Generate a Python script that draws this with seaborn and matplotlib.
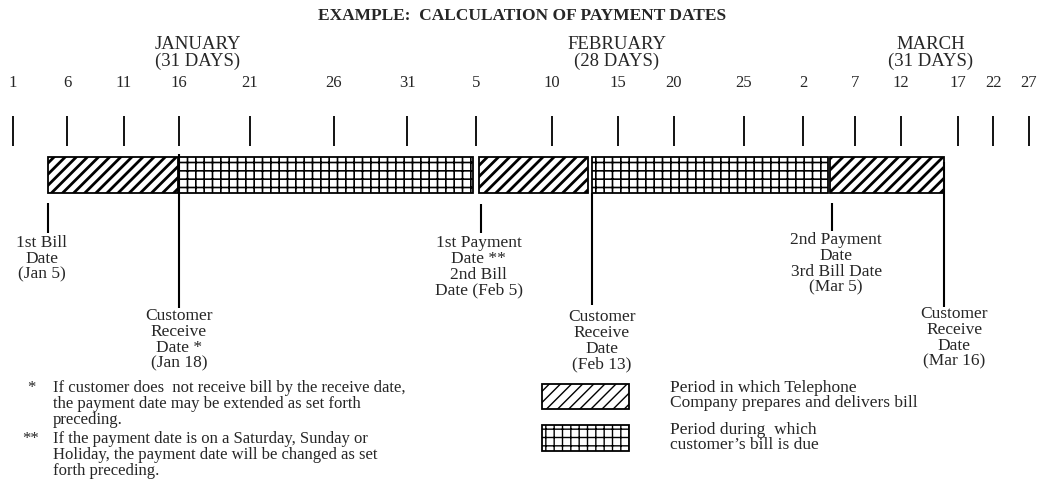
import numpy as np
import matplotlib
matplotlib.use("Agg")
import matplotlib.pyplot as plt
from matplotlib.patches import Patch
import seaborn as sns

# ------------------------------
# data (day of year, Jan 1 = 1)
# ------------------------------
tick_days = [1, 6, 11, 16, 21, 26, 31, 36, 41, 46, 51, 56, 61, 66, 71, 76, 81, 86]
tick_labels = ["1", "6", "11", "16", "21", "26", "31", "5", "10", "15",
               "20", "25", "2", "7", "12", "17", "22", "27"]
month_labels = ["JANUARY\n(31 DAYS)", "FEBRUARY\n(28 DAYS)", "MARCH\n(31 DAYS)"]

# periods
bill_start = [4.2, 36.2, 63.6]
bill_end = [15.9, 43.7, 74.8]
due_start = [16.0, 44.0]
due_end = [35.8, 63.4]

event_days = [4.2, 16.0, 36.3, 44.0, 63.8, 74.8]
event_labels = [
    "1st Bill\nDate\n(Jan 5)",
    "Customer\nReceive\nDate *\n(Jan 18)",
    "1st Payment\nDate **\n2nd Bill\nDate (Feb 5)",
    "Customer\nReceive\nDate\n(Feb 13)",
    "2nd Payment\nDate\n3rd Bill Date\n(Mar 5)",
    "Customer\nReceive\nDate\n(Mar 16)",
]

legend_labels = ["Period in which Telephone\nCompany prepares and delivers bill",
                 "Period during  which\ncustomer\u2019s bill is due"]
footnotes = ["If customer does  not receive bill by the receive date,\n"
             "the payment date may be extended as set forth\npreceding.",
             "If the payment date is on a Saturday, Sunday or\n"
             "Holiday, the payment date will be changed as set\nforth preceding."]
footnote_marks = ["*", "**"]

# ------------------------------
# layout
# ------------------------------
W, H = 1045, 487
# the drawing is hand spaced: piecewise axis between the printed ticks
axis_px = [0, 13, 67, 124, 179, 250, 334, 407, 476, 552, 618, 674, 744,
           803, 855, 901, 958, 993, 1029, W]
axis_day = [-0.2] + tick_days + [88.2]

line_top = [203, 154, 204, 193, 203, 162]
line_bot = [233, 308, 233, 305, 231, 307]
label_top = [235, 308, 235, 309, 232, 306]
label_dx = [-6, 0, -2, 10, 4, 10]

sns.set_style("white")
plt.rcParams['font.family'] = ['Liberation Serif', 'DejaVu Serif']

fig = plt.figure(figsize=(W / 100, H / 100), dpi=100)
ax = fig.add_axes([0, 0, 1, 1])
ax.set_xscale('function', functions=(lambda d: np.interp(d, axis_day, axis_px),
                                     lambda p: np.interp(p, axis_px, axis_day)))
ax.set_xlim(axis_day[0], axis_day[-1])
ax.set_ylim(H, 0)
ax.axis('off')

lay = fig.add_axes([0, 0, 1, 1])
lay.set_xlim(0, W)
lay.set_ylim(H, 0)
lay.axis('off')


def hatch_lw(patches, lw):
    for p in patches:
        if hasattr(p, 'set_hatch_linewidth'):
            p.set_hatch_linewidth(lw)


# bars
with plt.rc_context({'hatch.linewidth': 2.0}):
    b1 = ax.barh(175, np.subtract(bill_end, bill_start), left=bill_start, height=36,
                 facecolor='white', edgecolor='black', hatch='///', linewidth=1.3)
    h1 = Patch(facecolor='white', edgecolor='black', hatch='///', linewidth=1.3,
               label=legend_labels[0])
hatch_lw(list(b1) + [h1], 2.0)
with plt.rc_context({'hatch.linewidth': 1.2}):
    b2 = ax.barh(175, np.subtract(due_end, due_start), left=due_start, height=36,
                 facecolor='white', edgecolor='black', hatch='++', linewidth=1.3)
    h2 = Patch(facecolor='white', edgecolor='black', hatch='++', linewidth=1.3,
               label=legend_labels[1])
hatch_lw(list(b2) + [h2], 1.2)

# ticks and their numbers
ax.vlines(tick_days, 116, 146, color='black', lw=1.3)
for d, lab in zip(tick_days, tick_labels):
    ax.text(d, 83, lab, ha='center', va='center', fontsize=12)

# event markers
ax.vlines(event_days, line_top, line_bot, color='black', lw=1.5)
for d, lab, y, dx in zip(event_days, event_labels, label_top, label_dx):
    ax.annotate(lab, xy=(d, y), xytext=(dx * 0.72, 0), textcoords='offset points',
                ha='center', va='top', fontsize=12.5, linespacing=0.99)

# header
lay.text(W / 2, 16, "EXAMPLE:  CALCULATION OF PAYMENT DATES", ha='center',
         va='center', fontsize=12.5, fontweight='bold')
for x, lab in zip([198, 617, 931], month_labels):
    lay.text(x, 53, lab, ha='center', va='center', fontsize=13.5, linespacing=0.92)

# footnotes
for y, mark, txt in zip([380, 431], footnote_marks, footnotes):
    lay.text(31, y, mark, ha='center', va='top', fontsize=12)
    lay.text(53, y, txt, ha='left', va='top', fontsize=12, linespacing=0.98)

# legend
leg = lay.legend(handles=[h1, h2], loc='upper left',
                 bbox_to_anchor=(542 / W, 1 - 380 / H), frameon=False,
                 fontsize=12.5, handlelength=5.0, handleheight=1.85,
                 handletextpad=2.4, labelspacing=0.6, borderpad=0,
                 borderaxespad=0)
for t in leg.get_texts():
    t.set_linespacing(0.95)

fig.savefig("out.png", dpi=100)
